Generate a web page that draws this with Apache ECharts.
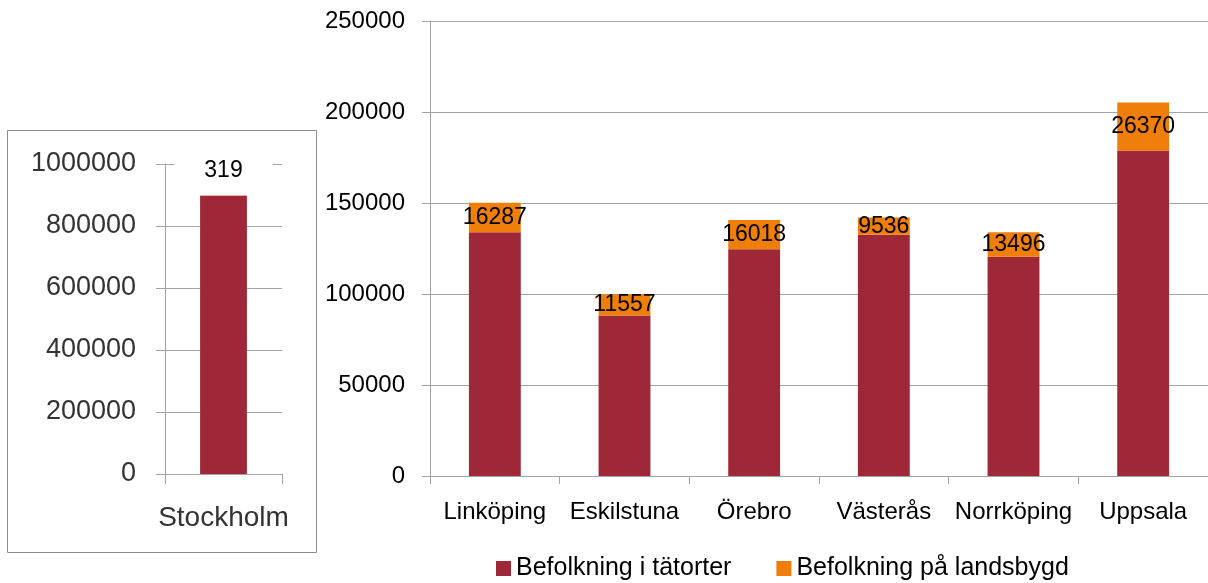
<!DOCTYPE html>
<html>
<head>
<meta charset="utf-8">
<script src="https://cdn.jsdelivr.net/npm/echarts@6/dist/echarts.min.js"></script>
<style>
  html, body { margin: 0; padding: 0; background: #fff; }
  #main { width: 1208px; height: 583px; }
</style>
</head>
<body>
<div id="main"></div>
<script>
// data
var bigCity = ['Stockholm']
var bigTatort = [897700]
var bigLandsbygd = [319]

var cities = ['Linköping', 'Eskilstuna', 'Örebro', 'Västerås', 'Norrköping', 'Uppsala']
var tatort = [133900, 88200, 124600, 132500, 120400, 178800]
var landsbygd = [16287, 11557, 16018, 9536, 13496, 26370]

var seriesNames = ['Befolkning i tätorter', 'Befolkning på landsbygd']
var colors = ['#9E2837', '#F07F09']

var FONT = 'Liberation Sans'
var gridColor = '#A3A3A3'

// plain numbers, no thousand separators
function plain(v) {
    return String(v)
}

var myChart = echarts.init(document.getElementById('main'))

var option = {
    animation: false,
    textStyle: { fontFamily: FONT },
    color: colors,
    legend: {
        left: 491,
        top: 551,
        itemWidth: 15,
        itemHeight: 15,
        itemGap: 45,
        icon: 'rect',
        textStyle: { fontSize: 25, color: '#000', fontFamily: FONT },
        data: seriesNames
    },
    graphic: [{
        type: 'rect',
        shape: { x: 7.5, y: 130.5, width: 309, height: 422 },
        style: { fill: 'none', stroke: '#8C8C8C', lineWidth: 1 },
        silent: true
    }],
    grid: [
        { left: 165, top: 164, width: 117, height: 310 },
        { left: 430, top: 21, right: 0, height: 455 }
    ],
    xAxis: [{
        gridIndex: 0,
        type: 'category',
        data: bigCity,
        axisLine: { lineStyle: { color: gridColor } },
        axisTick: { show: true, length: 10, lineStyle: { color: gridColor } },
        axisLabel: { fontSize: 28, color: '#333', margin: 30 }
    }, {
        gridIndex: 1,
        type: 'category',
        data: cities,
        axisLine: { lineStyle: { color: gridColor } },
        axisTick: { show: true, length: 8, lineStyle: { color: gridColor } },
        axisLabel: { fontSize: 24, color: '#000', margin: 24, interval: 0 }
    }],
    yAxis: [{
        gridIndex: 0,
        type: 'value',
        min: 0,
        max: 1000000,
        interval: 200000,
        axisLine: { show: true, lineStyle: { color: gridColor } },
        axisTick: { show: true, length: 9, lineStyle: { color: gridColor } },
        splitLine: { lineStyle: { color: gridColor } },
        axisLabel: { fontSize: 27, color: '#333', margin: 29, formatter: plain }
    }, {
        gridIndex: 1,
        type: 'value',
        min: 0,
        max: 250000,
        interval: 50000,
        axisLine: { show: true, lineStyle: { color: gridColor } },
        axisTick: { show: true, length: 8, lineStyle: { color: gridColor } },
        splitLine: { lineStyle: { color: gridColor } },
        axisLabel: { fontSize: 24, color: '#000', margin: 25, formatter: plain }
    }],
    series: [{
        name: seriesNames[0],
        type: 'bar',
        xAxisIndex: 0,
        yAxisIndex: 0,
        stack: 'sthlm',
        barWidth: '40%',
        itemStyle: { color: colors[0] },
        data: bigTatort
    }, {
        name: seriesNames[1],
        type: 'bar',
        xAxisIndex: 0,
        yAxisIndex: 0,
        stack: 'sthlm',
        barWidth: '40%',
        itemStyle: { color: colors[1] },
        label: {
            show: true,
            position: 'top',
            distance: 9,
            fontSize: 23,
            color: '#000',
            backgroundColor: '#fff',
            padding: [4, 30, 4, 30]
        },
        data: bigLandsbygd
    }, {
        name: seriesNames[0],
        type: 'bar',
        xAxisIndex: 1,
        yAxisIndex: 1,
        stack: 'cities',
        barWidth: '40%',
        itemStyle: { color: colors[0] },
        data: tatort
    }, {
        name: seriesNames[1],
        type: 'bar',
        xAxisIndex: 1,
        yAxisIndex: 1,
        stack: 'cities',
        barWidth: '40%',
        itemStyle: { color: colors[1] },
        label: {
            show: true,
            position: 'inside',
            fontSize: 23,
            color: '#000'
        },
        data: landsbygd
    }]
};

myChart.setOption(option);
</script>
</body>
</html>
